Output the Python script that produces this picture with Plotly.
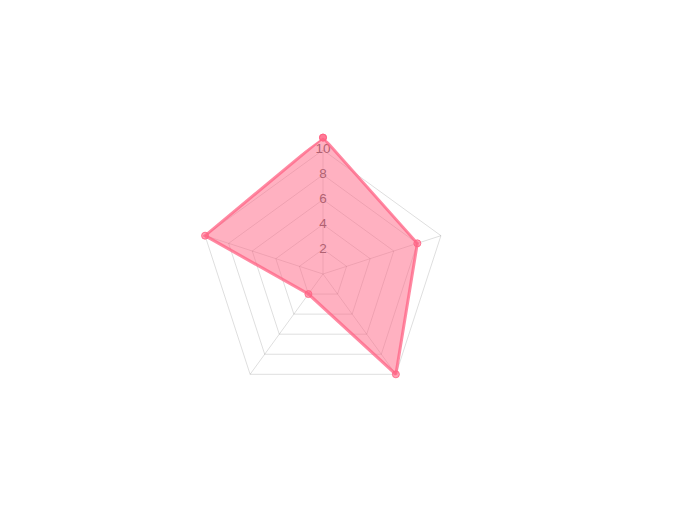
import plotly.graph_objects as go

categories = ["A", "B", "C", "D", "E"]
values = [11, 8, 10, 2, 10]
tick_values = [2, 4, 6, 8, 10]
tick_labels = ["2", "4", "6", "8", "10"]
scale_max = 10
data_max = 11

W, H = 690, 512
cx, cy, R = 315, 266, 124  # page body margin of 8px is added by the browser

def dom(radius):
    return dict(x=[(cx - radius) / W, (cx + radius) / W],
                y=[(H - cy - radius) / H, (H - cy + radius) / H])

fig = go.Figure()

# tick labels in the grid subplot, so the dataset fill (drawn above) tints them
fig.add_trace(go.Scatterpolar(
    r=tick_values,
    theta=[categories[0]] * len(tick_values),
    mode="text",
    text=tick_labels,
    textfont=dict(family="Liberation Sans, Arial, sans-serif", size=13.5, color="#5e5e5e"),
    textposition="middle center",
    hoverinfo="skip",
    showlegend=False,
    cliponaxis=False,
    subplot="polar",
))

fig.add_trace(go.Scatterpolar(
    r=values + [values[0]],
    theta=categories + [categories[0]],
    mode="lines+markers",
    fill="toself",
    fillcolor="rgba(255,99,132,0.5)",
    line=dict(color="rgba(255,99,132,0.75)", width=3),
    marker=dict(size=7, color="rgba(255,99,132,0.6)",
                line=dict(color="rgba(255,99,132,0.85)", width=1)),
    showlegend=False,
    cliponaxis=False,
    subplot="polar2",
))

grid = "rgba(0,0,0,0.13)"

fig.update_layout(
    width=W, height=H,
    margin=dict(l=0, r=0, t=0, b=0),
    paper_bgcolor="white",
    plot_bgcolor="white",
    showlegend=False,
    polar=dict(
        domain=dom(R),
        bgcolor="white",
        gridshape="linear",
        radialaxis=dict(
            range=[0, scale_max],
            tickvals=tick_values,
            showticklabels=False,
            ticks="",
            showline=False,
            showgrid=True,
            gridcolor=grid,
            gridwidth=1,
            layer="below traces",
        ),
        angularaxis=dict(
            type="category",
            categoryarray=categories,
            rotation=90,
            direction="clockwise",
            showticklabels=False,
            ticks="",
            showline=True,
            linecolor=grid,
            linewidth=1,
            showgrid=True,
            gridcolor=grid,
            gridwidth=1,
            layer="below traces",
        ),
    ),
    polar2=dict(
        domain=dom(R * data_max / scale_max),
        bgcolor="rgba(0,0,0,0)",
        gridshape="linear",
        radialaxis=dict(
            range=[0, data_max],
            showticklabels=False,
            ticks="",
            showline=False,
            showgrid=False,
        ),
        angularaxis=dict(
            type="category",
            categoryarray=categories,
            rotation=90,
            direction="clockwise",
            showticklabels=False,
            ticks="",
            showline=False,
            showgrid=False,
        ),
    ),
)

fig.write_html("out.html")
